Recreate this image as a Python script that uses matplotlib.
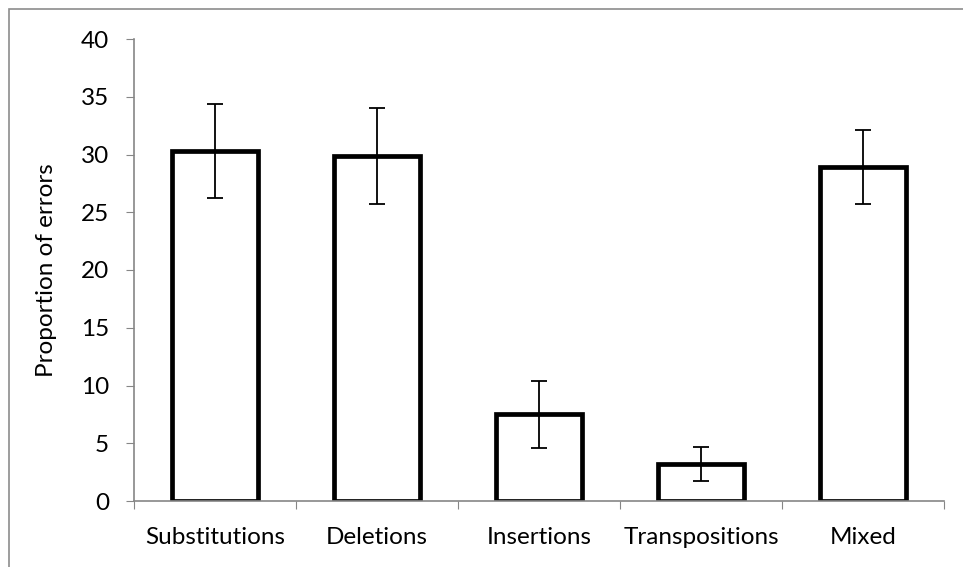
import numpy as np
import matplotlib.pyplot as plt
from matplotlib.patches import Rectangle

categories = ["Substitutions", "Deletions", "Insertions", "Transpositions", "Mixed"]
values = [30.3, 29.9, 7.5, 3.2, 28.9]
errors = [4.1, 4.15, 2.9, 1.5, 3.2]

plt.rcParams['font.family'] = ['Lato', 'DejaVu Sans']
FS = 17.5

fig = plt.figure(figsize=(9.63, 5.67), dpi=100)
ax = fig.add_axes([134 / 963, 1 - 501 / 567, (944 - 134) / 963, (501 - 39) / 567])

# outer chart-area border (only top/left visible in the original)
fig.patches.append(Rectangle((9 / 963, -0.1), 1.2, 1 - 9 / 567 + 0.1,
                             transform=fig.transFigure, fill=False,
                             edgecolor='#8c8c8c', linewidth=1.2))

x = np.arange(len(categories))
ax.bar(x, values, width=0.53, color='white', edgecolor='black', linewidth=3.4, zorder=2)
ax.errorbar(x, values, yerr=errors, fmt='none', ecolor='black', elinewidth=1.3,
            capsize=6, capthick=1.3, zorder=3)

ax.set_xlim(-0.5, len(categories) - 0.5)
ax.set_ylim(0, 40)
ax.set_yticks(range(0, 41, 5))
ax.set_xticks(np.arange(-0.5, len(categories), 1.0), minor=False)
ax.set_xticklabels([])
ax.set_xticks(x, minor=True)
ax.set_xticklabels(categories, minor=True)
ax.tick_params(axis='x', which='minor', length=0, pad=19, labelsize=FS)
ax.tick_params(axis='x', which='major', length=6, direction='out', color='#868686')
ax.tick_params(axis='y', length=6, direction='out', color='#868686', labelsize=FS, pad=12)

for s in ['top', 'right']:
    ax.spines[s].set_visible(False)
for s in ['left', 'bottom']:
    ax.spines[s].set_color('#868686')
    ax.spines[s].set_linewidth(1.2)

ax.set_ylabel("Proportion of errors", fontsize=FS)
ax.yaxis.set_label_coords(-0.095, 0.5)

fig.savefig("out.png", dpi=100)
